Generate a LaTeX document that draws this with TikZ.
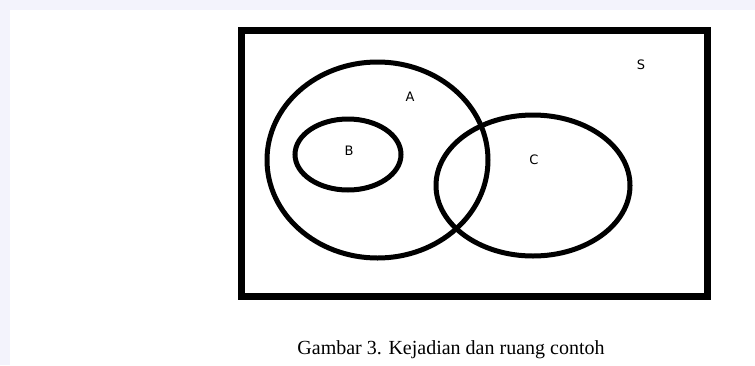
\documentclass[tikz,border=0pt]{standalone}
\usepackage{fontspec}
\setmainfont{Liberation Serif}
\setsansfont{DejaVu Sans}
\usepackage{xcolor}
\usepackage{tikz}
\usetikzlibrary{shapes.geometric}

\definecolor{pagebg}{HTML}{F3F3FC}

\begin{document}
\begin{tikzpicture}[x=1pt,y=-1pt,
  set/.style={draw,ellipse,line width=5pt,inner sep=0pt},
  lbl/.style={font=\sffamily\fontsize{13}{15}\selectfont,inner sep=0pt}]
\useasboundingbox (0,0) rectangle (755,365);
\fill[pagebg] (0,0) rectangle (755,365);
\fill[white] (10,10) rectangle (755,365);

\node[draw,line width=7pt,minimum width=466pt,minimum height=266pt,inner sep=0pt] (univ) at (474,163) {};
\node[lbl] (s) at (641,65) {S};

\node[set,minimum width=221pt,minimum height=196pt] (setA) at (377.5,160) {};
\node[set,minimum width=106pt,minimum height=71pt] (setB) at (348,154.5) {};
\node[set,minimum width=194pt,minimum height=141pt] (setC) at (533,185.5) {};

\node[lbl] (a) at (410,97) {A};
\node[lbl] (b) at (349,151) {B};
\node[lbl] (c) at (534,160) {C};

\node[font=\fontsize{20}{24}\selectfont,inner sep=0pt] (cap) at (451,350) {Gambar 3. Kejadian dan ruang contoh};
\end{tikzpicture}
\end{document}
